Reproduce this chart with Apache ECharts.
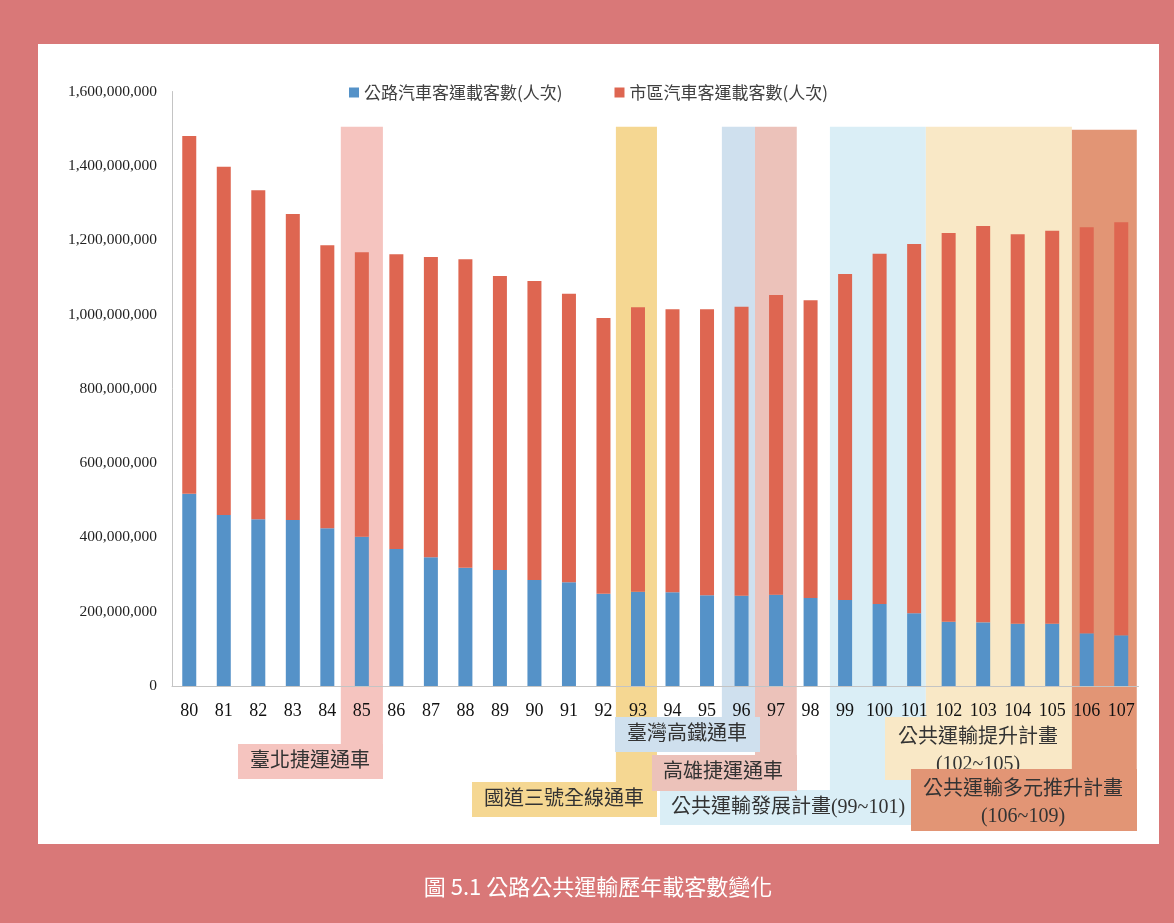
<!DOCTYPE html>
<html>
<head>
<meta charset="utf-8">
<title>公路公共運輸歷年載客數變化</title>
<script src="https://cdn.jsdelivr.net/npm/echarts@6/dist/echarts.min.js"></script>
<style>
  html, body { margin: 0; padding: 0; background: #d97878; }
  #chart { width: 1174px; height: 923px; }
</style>
</head>
<body>
<div id="chart"></div>
<script>
// 民國年
const years = ['80', '81', '82', '83', '84', '85', '86', '87', '88', '89', '90', '91', '92', '93',
  '94', '95', '96', '97', '98', '99', '100', '101', '102', '103', '104', '105', '106', '107'];

// 公路汽車客運載客數(人次)
const highwayBus = [517600000, 460200000, 448500000, 446800000, 424300000, 401900000, 368700000,
  346300000, 318500000, 312200000, 285300000, 279000000, 248500000, 253900000, 252100000,
  244000000, 243100000, 245800000, 236800000, 231500000, 220700000, 195600000, 173100000,
  171300000, 167800000, 167800000, 141700000, 136400000];

// 市區汽車客運載客數(人次)
const cityBus = [962600000, 937400000, 885500000, 823500000, 761700000, 765200000, 793100000,
  808300000, 829700000, 791200000, 804700000, 776800000, 741900000, 765200000, 761600000,
  769700000, 777800000, 806500000, 801100000, 877300000, 942800000, 994000000, 1046100000,
  1066700000, 1047800000, 1057600000, 1092700000, 1111500000];

const seriesNames = ['公路汽車客運載客數(人次)', '市區汽車客運載客數(人次)'];
const yMax = 1600000000;
const yStep = 200000000;

// 重要事件 (起訖年)
const events = [
  { text: '臺北捷運通車', from: '85', to: '85' },
  { text: '國道三號全線通車', from: '93', to: '93' },
  { text: '臺灣高鐵通車', from: '96', to: '96' },
  { text: '高雄捷運通車', from: '97', to: '97' },
  { text: '公共運輸發展計畫(99~101)', from: '99', to: '101' },
  { text: '公共運輸提升計畫\n(102~105)', from: '102', to: '105' },
  { text: '公共運輸多元推升計畫\n(106~109)', from: '106', to: '107' }
];

// 事件色塊的外觀: 色帶超出類別寬度的比例, 下方標籤框位置
const eventStyles = [
  { color: '#f5c4bf', padL: 0.61, padR: 0.61, top: 1505000000, box: [238, 744, 383, 779], tx: 310, ty: 762, order: 1 },
  { color: '#f5d792', padL: 0.64, padR: 0.55, top: 1505000000, box: [472, 782, 657, 817], tx: 564, ty: 800, order: 2 },
  { color: '#cfe0ee', padL: 0.57, padR: 0.39, top: 1505000000, box: [615, 717, 760, 752], tx: 687, ty: 735, order: 6 },
  { color: '#ecc2ba', padL: 0.61, padR: 0.60, top: 1505000000, box: [652, 755, 797, 791], tx: 723, ty: 773, order: 5 },
  { color: '#daeef6', padL: 0.44, padR: 0.34, top: 1505000000, box: [660, 790, 926, 825], tx: 788, ty: 808, order: 3 },
  { color: '#f9e8c6', padL: 0.66, padR: 0.57, top: 1505000000, box: [885, 717, 1072, 780], tx: 978, ty: 751, order: 4 },
  { color: '#e29575', padL: 0.43, padR: 0.45, top: 1497000000, box: [911, 769, 1137, 831], tx: 1023, ty: 803, order: 7 }
];

const serif = '"Liberation Serif", "Times New Roman", serif';
const cjk = '"Noto Sans CJK TC", "Noto Sans", sans-serif';
const mixed = '"Liberation Serif", "Noto Sans CJK TC", serif';

function withCommas(v) {
  return String(v).replace(/\B(?=(\d{3})+(?!\d))/g, ',');
}

const chart = echarts.init(document.getElementById('chart'), null, { renderer: 'canvas' });

const option = {
  backgroundColor: '#d97878',
  animation: false,
  legend: {
    data: seriesNames,
    left: 344,
    top: 79,
    icon: 'rect',
    itemWidth: 10,
    itemHeight: 10,
    itemGap: 52,
    textStyle: { fontFamily: cjk, fontSize: 17, color: '#404040' }
  },
  grid: { left: 172, right: 35.5, top: 91.5, bottom: 237 },
  xAxis: {
    type: 'category',
    data: years,
    axisTick: { show: false },
    axisLine: { lineStyle: { color: '#c4c4c4', width: 1 } },
    axisLabel: { interval: 0, margin: 16, fontFamily: serif, fontSize: 18, color: '#111' }
  },
  yAxis: {
    type: 'value',
    min: 0,
    max: yMax,
    interval: yStep,
    splitLine: { show: false },
    axisTick: { show: false },
    axisLine: { show: true, lineStyle: { color: '#c4c4c4', width: 1 } },
    axisLabel: { margin: 15, fontFamily: serif, fontSize: 15.5, color: '#222', formatter: withCommas }
  },
  series: [
    {
      name: seriesNames[0],
      type: 'bar',
      stack: 'total',
      barWidth: 14,
      itemStyle: { color: '#5592c8' },
      data: highwayBus
    },
    {
      name: seriesNames[1],
      type: 'bar',
      stack: 'total',
      barWidth: 14,
      itemStyle: { color: '#de6651' },
      data: cityBus
    }
  ]
};

chart.setOption(option);

// build the event strips from the axis scales
const band = chart.convertToPixel({ xAxisIndex: 0 }, years[1]) - chart.convertToPixel({ xAxisIndex: 0 }, years[0]);
const elements = [
  {
    type: 'rect',
    z: -10,
    shape: { x: 38, y: 44, width: 1121, height: 800 },
    style: { fill: '#ffffff' },
    silent: true
  },
  {
    type: 'text',
    z: 5,
    x: 598,
    y: 887,
    style: {
      text: '圖 5.1 公路公共運輸歷年載客數變化',
      fill: '#ffffff',
      font: '22px ' + cjk,
      align: 'center',
      verticalAlign: 'middle'
    },
    silent: true
  }
];

events.forEach((ev, i) => {
  const st = eventStyles[i];
  const x1 = chart.convertToPixel({ xAxisIndex: 0 }, ev.from) - band * st.padL;
  const x2 = chart.convertToPixel({ xAxisIndex: 0 }, ev.to) + band * st.padR;
  const yTop = chart.convertToPixel({ yAxisIndex: 0 }, st.top);
  const [bx1, by1, bx2, by2] = st.box;
  const z2 = st.order * 3;
  elements.push({
    type: 'rect',
    z: -5,
    z2: z2,
    shape: { x: x1, y: yTop, width: x2 - x1, height: by2 - yTop },
    style: { fill: st.color },
    silent: true
  });
  elements.push({
    type: 'rect',
    z: -5,
    z2: z2 + 1,
    shape: { x: bx1, y: by1, width: bx2 - bx1, height: by2 - by1 },
    style: { fill: st.color },
    silent: true
  });
  elements.push({
    type: 'text',
    z: -5,
    z2: z2 + 2,
    x: st.tx,
    y: st.ty,
    style: {
      text: ev.text,
      fill: '#333333',
      font: '20px ' + mixed,
      lineHeight: 27,
      align: 'center',
      verticalAlign: 'middle'
    },
    silent: true
  });
});

chart.setOption({ graphic: { elements: elements } });
</script>
</body>
</html>
